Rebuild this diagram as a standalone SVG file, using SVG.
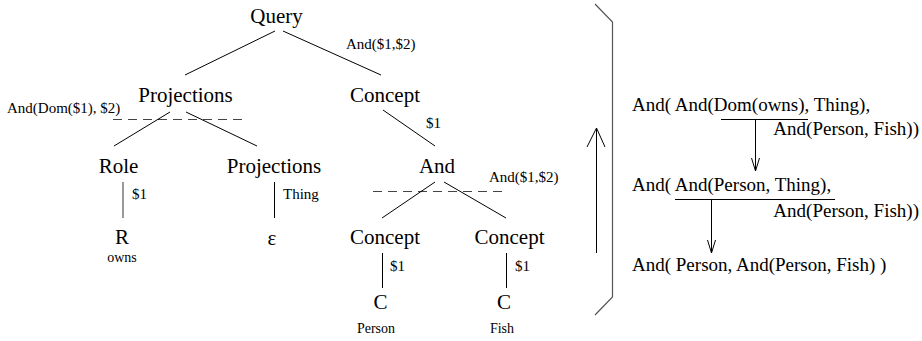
<svg xmlns="http://www.w3.org/2000/svg" width="922" height="341" viewBox="0 0 922 341">
  <style>
    text { font-family: "Liberation Serif", "Times New Roman", "DejaVu Serif", serif; fill: #000; }
    .node { font-size: 21px; text-anchor: middle; }
    .lbl { font-size: 15px; }
    .sub { font-size: 14px; text-anchor: middle; }
    .expr { font-size: 19px; }
    .end { text-anchor: end; }
    .edge { stroke: #000; stroke-width: 1; fill: none; }
    .dash { stroke: #444; stroke-width: 1; stroke-dasharray: 9 6; fill: none; }
    .soft { stroke: #555; stroke-width: 1.2; fill: none; }
  </style>
  <rect width="922" height="341" fill="#fff"/>

  <!-- tree edges -->
  <g id="connectors">
    <line class="edge" x1="275" y1="31" x2="185" y2="75"/>
    <line class="edge" x1="283" y1="31" x2="381" y2="75"/>
    <line class="dash" x1="113" y1="119.5" x2="248" y2="119.5"/>
    <line class="edge" x1="170" y1="112" x2="114" y2="146"/>
    <line class="edge" x1="186" y1="112" x2="257" y2="146"/>
    <line class="edge" x1="383" y1="110" x2="435" y2="146"/>
    <line class="soft" x1="123" y1="182" x2="123" y2="218"/>
    <line class="edge" x1="274.5" y1="182" x2="274.5" y2="218"/>
    <line class="dash" x1="373" y1="191.5" x2="506" y2="191.5"/>
    <line class="edge" x1="435" y1="182" x2="382" y2="218"/>
    <line class="edge" x1="444" y1="182" x2="506" y2="218"/>
    <line class="edge" x1="382.5" y1="253" x2="382.5" y2="288"/>
    <line class="edge" x1="506.5" y1="253" x2="506.5" y2="288"/>
    <!-- upward pass arrow -->
    <line class="edge" x1="596.5" y1="129" x2="596.5" y2="253"/>
    <polyline class="edge" points="587,147 596.5,128 605,147"/>
    <!-- closing bracket -->
    <polyline class="soft" points="595,4 612.5,22 612.5,297 595,315"/>
    <!-- rewrite steps -->
    <line class="edge" x1="721" y1="119.5" x2="808" y2="119.5"/>
    <line class="edge" x1="755.5" y1="119.5" x2="755.5" y2="171"/>
    <polyline class="edge" points="751.5,158 755.5,171 759.5,158"/>
    <line class="edge" x1="675" y1="199.5" x2="835" y2="199.5"/>
    <line class="edge" x1="711.5" y1="199.5" x2="711.5" y2="253"/>
    <polyline class="edge" points="707.5,240 711.5,253 715.5,240"/>
  </g>

  <g id="query"><text class="node" x="276.5" y="23">Query</text></g>
  <g id="projections"><text class="node" x="185.5" y="102">Projections</text>
    <text class="lbl" x="7" y="113">And(Dom($1), $2)</text></g>
  <g id="concept-top"><text class="node" x="385" y="102">Concept</text>
    <text class="lbl" x="346" y="49">And($1,$2)</text>
    <text class="lbl" x="426" y="128">$1</text></g>
  <g id="role"><text class="node" x="118.5" y="173">Role</text>
    <text class="lbl" x="132" y="199">$1</text></g>
  <g id="projections-inner"><text class="node" x="274" y="173">Projections</text>
    <text class="lbl" x="283" y="199">Thing</text></g>
  <g id="and"><text class="node" x="437" y="173">And</text>
    <text class="lbl" x="489" y="182">And($1,$2)</text></g>
  <g id="concept-left"><text class="node" x="385" y="244">Concept</text>
    <text class="lbl" x="390" y="271">$1</text></g>
  <g id="concept-right"><text class="node" x="509.5" y="244">Concept</text>
    <text class="lbl" x="515" y="271">$1</text></g>
  <g id="r-owns"><text class="node" x="122" y="244">R</text>
    <text class="sub" x="122" y="262">owns</text></g>
  <g id="epsilon"><text class="node" x="272" y="245">ε</text></g>
  <g id="c-person"><text class="node" x="380.5" y="309">C</text>
    <text class="sub" x="376" y="333">Person</text></g>
  <g id="c-fish"><text class="node" x="504" y="309">C</text>
    <text class="sub" x="502" y="333">Fish</text></g>

  <g id="rewrite">
    <text class="expr" x="632" y="111">And( And(Dom(owns), Thing),</text>
    <text class="expr end" x="919" y="135">And(Person, Fish))</text>
    <text class="expr" x="632" y="191">And( And(Person, Thing),</text>
    <text class="expr end" x="919" y="217">And(Person, Fish))</text>
    <text class="expr" x="632" y="271">And( Person, And(Person, Fish) )</text>
  </g>
</svg>
